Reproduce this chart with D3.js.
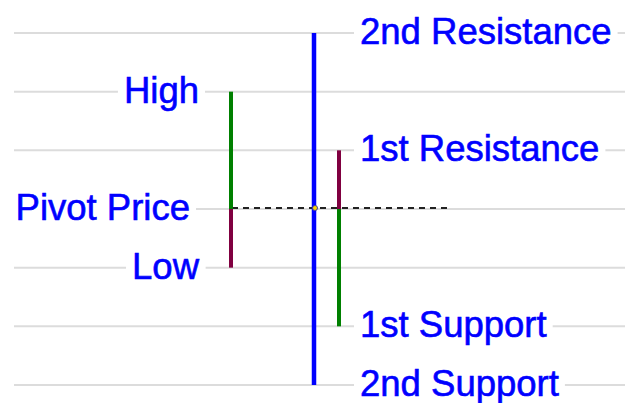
<!DOCTYPE html>
<html>
<head>
<meta charset="utf-8">
<script src="https://cdn.jsdelivr.net/npm/d3@7"></script>
<style>
  html, body { margin: 0; padding: 0; background: #fff; }
  svg { display: block; }
</style>
</head>
<body>
<svg id="chart" width="628" height="403"></svg>
<script>
// ---- data ----
const pivot = 100;
const high = 102;
const low = 99;
const res1 = 101;
const res2 = 103;
const sup1 = 98;
const sup2 = 97;
const gridTicks = [97, 98, 99, 100, 101, 102, 103];

const leftLabels = [
  { text: "High", value: high },
  { text: "Pivot Price", value: pivot },
  { text: "Low", value: low }
];
const rightLabels = [
  { text: "2nd Resistance", value: res2 },
  { text: "1st Resistance", value: res1 },
  { text: "1st Support", value: sup1 },
  { text: "2nd Support", value: sup2 }
];

// ---- layout ----
const svg = d3.select("#chart");
const y = d3.scaleLinear().domain([97, 103]).range([385, 33]);
const x = d3.scaleLinear().domain([0, 1]).range([14, 625]);

const gridColor = "#dcdcdc";
const green = "#008000";
const maroon = "#800040";
const blue = "#0000ff";

// gridlines
svg.append("g").selectAll("line").data(gridTicks).join("line")
  .attr("x1", x(0)).attr("x2", x(1))
  .attr("y1", d => y(d)).attr("y2", d => y(d))
  .attr("stroke", gridColor).attr("stroke-width", 2);

// dashed pivot line
svg.append("line")
  .attr("x1", 232).attr("x2", 452)
  .attr("y1", y(pivot) - 1).attr("y2", y(pivot) - 1)
  .attr("stroke", "#222").attr("stroke-width", 2)
  .attr("stroke-dasharray", "6,5");

const bx1 = 231, bx2 = 314, bx3 = 339;
function vbar(xp, v0, v1, color, w) {
  svg.append("line")
    .attr("x1", xp).attr("x2", xp)
    .attr("y1", y(v0)).attr("y2", y(v1))
    .attr("stroke", color).attr("stroke-width", w);
}
// bar 1: high/low
vbar(bx1, pivot, high, green, 4);
vbar(bx1, pivot, low, maroon, 4);
// bar 2: R2/S2
vbar(bx2, sup2, res2, blue, 4.5);
// bar 3: R1/S1
vbar(bx3, pivot, res1, maroon, 4);
vbar(bx3, pivot, sup1, green, 4);

// pivot marker
svg.append("circle")
  .attr("cx", bx2 + 1).attr("cy", y(pivot) - 1).attr("r", 2.5)
  .attr("fill", "#ffd800").attr("stroke", "#4040a0").attr("stroke-width", 1);

// labels
const font = "'Liberation Sans', Arial, sans-serif";
const fs = 36.5;
function label(d, xp, anchor) {
  const g = svg.append("g");
  const t = g.append("text")
    .attr("x", xp).attr("y", y(d.value) + 11)
    .attr("text-anchor", anchor)
    .attr("font-family", font).attr("font-size", fs)
    .attr("fill", blue).attr("stroke", blue).attr("stroke-width", 0.6)
    .text(d.text);
  const bb = t.node().getBBox();
  g.insert("rect", "text")
    .attr("x", bb.x - 6).attr("y", y(d.value) - 4)
    .attr("width", bb.width + 12).attr("height", 8)
    .attr("fill", "#fff");
}
leftLabels.forEach(d => label(d, d.text === "Pivot Price" ? 190 : 199, "end"));
rightLabels.forEach(d => label(d, 360, "start"));
</script>
</body>
</html>
